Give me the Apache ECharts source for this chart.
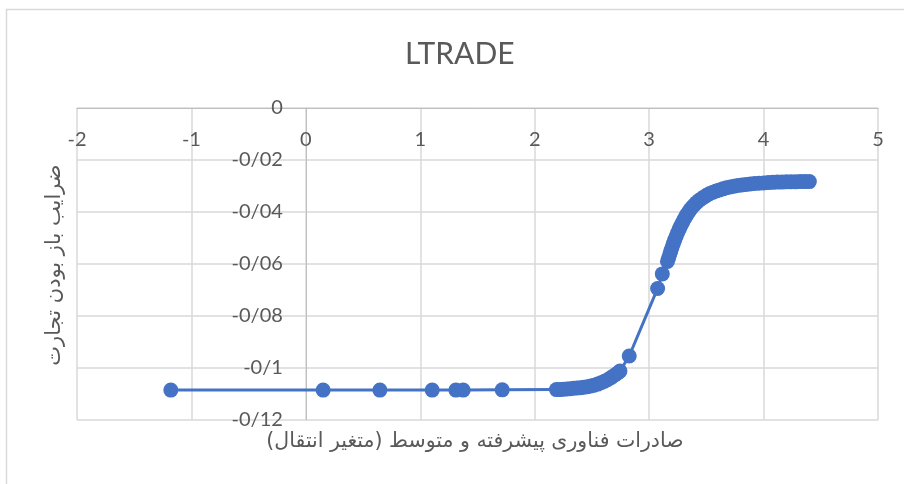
<!DOCTYPE html>
<html>
<head>
<meta charset="utf-8">
<script src="https://cdn.jsdelivr.net/npm/echarts@6/dist/echarts.min.js"></script>
<style>
    html, body { margin: 0; padding: 0; background: #fff; }
    #chart { width: 904px; height: 484px; }
</style>
</head>
<body>
<div id="chart"></div>
<script>
// ── Data ────────────────────────────────────────────────────────────────────
const chartTitle = 'LTRADE';
const xTitle = 'صادرات فناوری پیشرفته و متوسط (متغیر انتقال)';
const yTitle = 'ضرایب باز بودن تجارت';

// transition variable (x)
const transVar = [
    -1.18, 0.151, 0.647, 1.104, 1.311, 1.375, 1.716,
    2.190, 2.220, 2.250, 2.280, 2.310, 2.340, 2.370, 2.400, 2.430, 2.460,
    2.490, 2.520, 2.550, 2.580, 2.610, 2.640, 2.670, 2.700, 2.725, 2.745,
    2.826, 3.074, 3.115,
    3.160, 3.170, 3.180, 3.190, 3.200, 3.212, 3.224, 3.236, 3.250, 3.264,
    3.278, 3.293, 3.308, 3.324, 3.340, 3.357, 3.375, 3.394, 3.414, 3.435,
    3.457, 3.480, 3.505, 3.531, 3.558, 3.586, 3.615, 3.645, 3.676, 3.708,
    3.741, 3.775, 3.810, 3.846, 3.883, 3.921, 3.960, 4.000, 4.040, 4.080,
    4.120, 4.160, 4.200, 4.240, 4.280, 4.320, 4.360, 4.400
];

// LTRADE coefficient (y)
const coefValues = [
    -0.1085, -0.1085, -0.1085, -0.1085, -0.1085, -0.1085, -0.1084,
    -0.1083, -0.1083, -0.1082, -0.1081, -0.1080, -0.1078, -0.1077, -0.1076, -0.1074, -0.1072,
    -0.1069, -0.1066, -0.1062, -0.1057, -0.1051, -0.1044, -0.1036, -0.1027, -0.1019, -0.1012,
    -0.0954, -0.0694, -0.0638,
    -0.0590, -0.0577, -0.0563, -0.0549, -0.0536, -0.0521, -0.0507, -0.0493, -0.0479, -0.0465,
    -0.0452, -0.0439, -0.0426, -0.0414, -0.0403, -0.0392, -0.0382, -0.0373, -0.0364, -0.0356,
    -0.0349, -0.0342, -0.0335, -0.0329, -0.0324, -0.0319, -0.0315, -0.0311, -0.0307, -0.0304,
    -0.0301, -0.0298, -0.0296, -0.0294, -0.0292, -0.0290, -0.0289, -0.0288, -0.0287, -0.0286,
    -0.0285, -0.0285, -0.0284, -0.0284, -0.0284, -0.0283, -0.0283, -0.0283
];

const points = transVar.map((x, i) => [x, coefValues[i]]);

// ── Chart ────────────────────────────────────────────────────────────────────
const txtColor = '#595959';
const gridColor = '#d9d9d9';
const latin = 'Lato, "DejaVu Sans", sans-serif';
const persian = '"DejaVu Sans", sans-serif';

const chart = echarts.init(document.getElementById('chart'), null, { renderer: 'canvas' });

// the y axis crosses at x = 0, i.e. 2 of 7 units into the plot width
const gridLeft = 77, gridRight = 26;
const yAxisShift = -(904 - gridLeft - gridRight) * 2 / 7;

chart.setOption({
    animation: false,
    backgroundColor: '#fff',
    title: {
        text: chartTitle,
        left: 400,
        top: 34,
        textStyle: { color: txtColor, fontFamily: latin, fontSize: 30, fontWeight: 'normal' }
    },
    grid: { left: gridLeft, right: gridRight, top: 108, bottom: 64 },
    xAxis: {
        type: 'value',
        position: 'top',
        min: -2, max: 5, interval: 1,
        axisLine: { onZero: false, lineStyle: { color: '#bfbfbf', width: 1 } },
        axisTick: { show: false },
        axisLabel: { inside: true, color: txtColor, fontFamily: latin, fontSize: 20, margin: 22 },
        splitLine: { show: true, lineStyle: { color: gridColor, width: 1.5 } }
    },
    yAxis: {
        type: 'value',
        position: 'left',
        offset: yAxisShift,
        min: -0.12, max: 0, interval: 0.02,
        axisLine: { show: true, onZero: false, lineStyle: { color: '#bfbfbf', width: 1 } },
        axisTick: { show: false },
        axisLabel: {
            color: txtColor, fontFamily: latin, fontSize: 20, margin: 23,
            formatter: v => String(+v.toFixed(2)).replace('.', '/')
        },
        splitLine: { show: true, lineStyle: { color: gridColor, width: 1.5 } }
    },
    graphic: [
        {   // chart frame (cut off at right and bottom)
            type: 'rect', silent: true,
            shape: { x: 6.5, y: 9.5, width: 920, height: 500 },
            style: { fill: null, stroke: gridColor, lineWidth: 1.5 }
        },
        {   // y axis title
            type: 'text',
            x: 55, y: 265, rotation: Math.PI / 2,
            style: {
                text: yTitle, fill: txtColor, font: '21px ' + persian,
                align: 'center', verticalAlign: 'middle'
            }
        },
        {   // x axis title
            type: 'text',
            x: 475, y: 442,
            style: {
                text: xTitle, fill: txtColor, font: '20.5px ' + persian,
                align: 'center', verticalAlign: 'middle'
            }
        }
    ],
    series: [{
        name: chartTitle,
        type: 'line',
        data: points,
        symbol: 'circle',
        symbolSize: 15,
        showSymbol: true,
        lineStyle: { color: '#4472c4', width: 3 },
        itemStyle: { color: '#4472c4' },
        z: 3
    }]
});
</script>
</body>
</html>
